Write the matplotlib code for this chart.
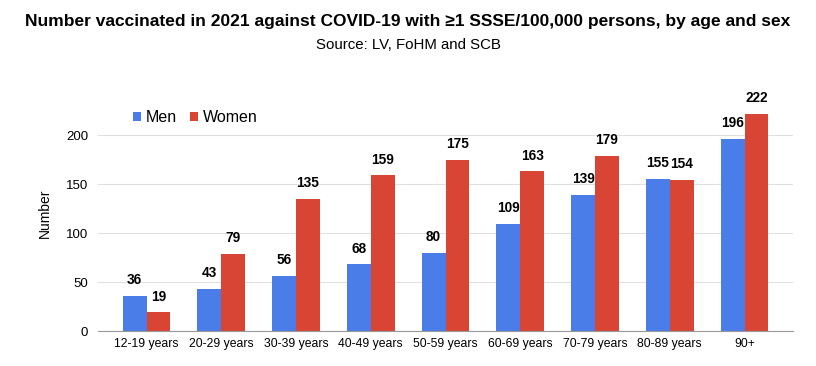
import matplotlib.pyplot as plt
import numpy as np

plt.rcParams['font.family'] = ['Liberation Sans', 'DejaVu Sans']

# data
age_groups = ['12-19 years', '20-29 years', '30-39 years', '40-49 years', '50-59 years',
              '60-69 years', '70-79 years', '80-89 years', '90+']
men = [36, 43, 56, 68, 80, 109, 139, 155, 196]
women = [19, 79, 135, 159, 175, 163, 179, 154, 222]

blue = '#4a7de8'
red = '#d94535'

fig = plt.figure(figsize=(8.16, 3.66), dpi=100)
ax = fig.add_axes([0.12, 0.0956, 0.852, 0.642])

x = np.arange(len(age_groups))
w = 0.32
b1 = ax.bar(x - w / 2, men, w, color=blue, label='Men')
b2 = ax.bar(x + w / 2, women, w, color=red, label='Women')

# value labels
for bars in (b1, b2):
    for bar in bars:
        h = bar.get_height()
        ax.text(bar.get_x() + bar.get_width() / 2, h + 9, f'{h:.0f}',
                ha='center', va='bottom', fontsize=9.8, fontweight='bold')

ax.set_xlim(-0.65, len(age_groups) - 0.35)
ax.set_ylim(0, 240)
ax.set_yticks([0, 50, 100, 150, 200])
ax.set_xticks(x)
ax.set_xticklabels(age_groups, fontsize=8.8)
ax.tick_params(axis='y', labelsize=9.5, length=0, pad=7)
ax.tick_params(axis='x', length=0, pad=5)
ax.grid(axis='y', color='#e0e0e0', linewidth=0.8)
ax.set_axisbelow(True)
for s in ['top', 'right', 'left']:
    ax.spines[s].set_visible(False)
ax.spines['bottom'].set_color('#999999')
ax.set_ylabel('Number', fontsize=10, labelpad=10)

ax.legend(loc='upper left', bbox_to_anchor=(0.03, 1.0), ncol=2, frameon=False,
          fontsize=11.5, handlelength=0.5, handleheight=0.5, handletextpad=0.3,
          columnspacing=0.8)

fig.text(0.5, 0.93, 'Number vaccinated in 2021 against COVID-19 with \u22651 SSSE/100,000 persons, by age and sex',
         ha='center', fontsize=12.5, fontweight='bold')
fig.text(0.5, 0.865, 'Source: LV, FoHM and SCB', ha='center', fontsize=10.8)

fig.savefig('out.png', dpi=100)
